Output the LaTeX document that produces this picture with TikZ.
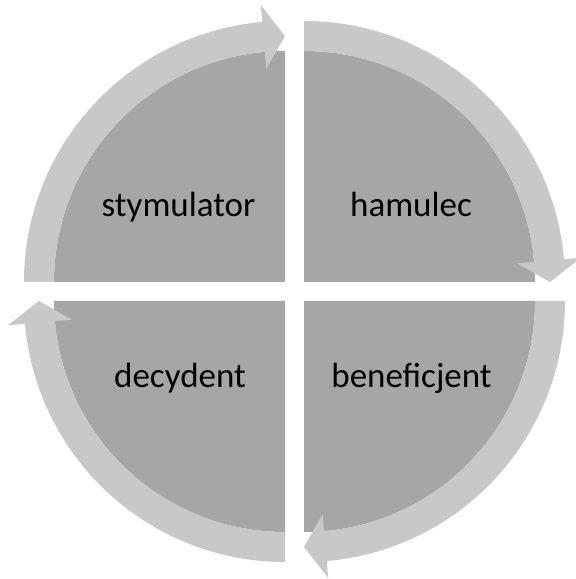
\documentclass[tikz,border=0pt]{standalone}
\usepackage{fontspec}
\setmainfont{Carlito}
\definecolor{sectorgray}{RGB}{166,166,166}
\definecolor{ringgray}{RGB}{200,200,200}
\tikzset{
  sector/.style={fill=sectorgray},
  ringarrow/.style={fill=ringgray},
  label/.style={font=\fontsize{35}{42}\selectfont, text=black, anchor=base, inner sep=0pt}
}
\begin{document}
\begin{tikzpicture}[x=1pt,y=1pt]
\useasboundingbox[fill=white] (0,0) rectangle (576,579);
\foreach \cx/\cy/\s in {285/297/180, 304/297/90, 304/278/0, 285/278/-90}{
  \begin{scope}[shift={(\cx pt,\cy pt)}]
    \fill[sector] (0,0) -- (\s:231pt) arc[start angle=\s, end angle=\s-90, radius=231pt] -- cycle;
    \fill[ringarrow] (\s:231pt) -- (\s:261pt)
      arc[start angle=\s, end angle=\s-85, radius=261pt]
      -- (\s-85:278pt) -- (\s-90:246pt) -- (\s-85:214pt) -- (\s-85:231pt)
      arc[start angle=\s-85, end angle=\s, radius=231pt] -- cycle;
  \end{scope}
}
\node[label] (stym) at (178.5,362) {stymulator};
\node[label] (ham) at (411,362) {hamulec};
\node[label] (dec) at (180,191) {decydent};
\node[label] (ben) at (411.5,191) {beneficjent};
\end{tikzpicture}
\end{document}
